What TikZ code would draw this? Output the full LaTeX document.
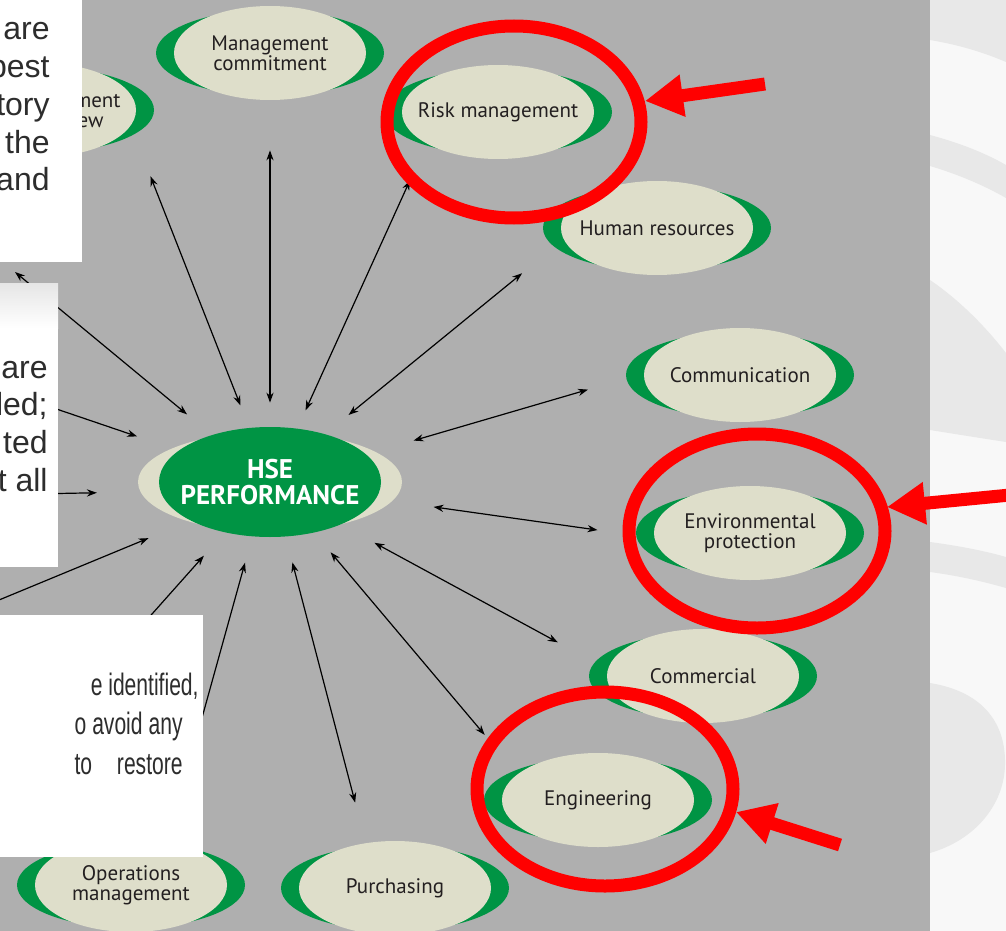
\documentclass[tikz,border=0pt]{standalone}
\usepackage{fontspec}
\setmainfont{PT Sans}
\newfontfamily\notefont{Liberation Sans}
\newfontfamily\narrowfont[FakeStretch=0.68]{Liberation Sans}
\usepackage{xcolor}
\usepackage{tikz}
\usetikzlibrary{shapes.geometric, arrows.meta}
\pgfdeclarelayer{ft}
\pgfdeclarelayer{bg}
\pgfsetlayers{bg,main,ft}

\definecolor{panel}{RGB}{175,175,175}
\definecolor{leaf}{RGB}{0,148,68}
\definecolor{cream}{RGB}{222,222,202}
\definecolor{paper}{RGB}{248,248,248}
\definecolor{swoosh}{RGB}{232,232,232}
\definecolor{ink}{RGB}{35,31,32}
\definecolor{notegray}{RGB}{45,45,45}

\tikzset{
  pill/.style={ellipse, fill=cream, minimum width=96pt, minimum height=47pt, inner sep=0pt},
  core/.style={ellipse, fill=leaf, minimum width=111pt, minimum height=55pt, inner sep=0pt},
  tag/.style={font=\fontsize{10.5}{10}\selectfont, text=ink, align=center, inner sep=0pt},
  link/.style={>={Stealth[length=5pt, width=3.6pt]}, <->, line width=0.6pt},
  note/.style={font=\notefont\fontsize{16}{19}\selectfont, text=notegray, inner sep=0pt, anchor=base east},
  narrownote/.style={note, font=\narrowfont\fontsize{15.5}{17}\selectfont},
  ring/.style={red, line width=6.5pt},
  pointer/.style={red, line width=6.5pt, -{Triangle[length=19pt, width=20pt]}}
}

\begin{document}
\begin{tikzpicture}[x=0.5pt,y=-0.5pt]
  \useasboundingbox (0,0) rectangle (1006,931);

  % grey panel and the pale strip on the right
  \begin{pgfonlayer}{bg}
    \fill[panel] (0,0) rectangle (930,931);
    \fill[paper] (930,0) rectangle (1006,931);
    \fill[swoosh] (930,0) -- (930,40) .. controls (960,45) and (985,53) .. (1006,62) -- (1006,0) -- cycle;
    \fill[swoosh] (930,135) .. controls (960,143) and (985,153) .. (1006,165)
      -- (1006,198) .. controls (985,186) and (960,175) .. (930,166) -- cycle;
    \fill[swoosh] (930,280) .. controls (955,297) and (982,322) .. (1006,353)
      -- (1006,442) .. controls (980,438) and (955,434) .. (930,430) -- cycle;
    \fill[swoosh] (930,542) .. controls (960,546) and (985,551) .. (1006,557)
      -- (1006,588) .. controls (985,582) and (960,576) .. (930,572) -- cycle;
    \fill[swoosh] (930,683) .. controls (985,692) and (1006,725) .. (1005,765)
      .. controls (1004,805) and (975,840) .. (930,853) -- cycle;
  \end{pgfonlayer}

  % the hub
  \node[core, label={[tag, text=white, font=\fontsize{13.5}{13}\selectfont\bfseries]center:HSE\\PERFORMANCE}] (hse) at (270,482) {};

  % the areas around it
  \node[pill, label={[tag, align=right, xshift=11pt]center:Management\\review\hspace*{8.5pt}}] (review) at (40,110) {};
  \node[pill, label={[tag]center:Management\\commitment}] (commit) at (270,53) {};
  \node[pill, label={[tag]center:Risk management}] (risk) at (498,112) {};
  \node[pill, label={[tag]center:Human resources}] (human) at (657,228) {};
  \node[pill, label={[tag]center:Communication}] (comms) at (740,375) {};
  \node[pill, label={[tag]center:Environmental\\protection}] (enviro) at (750,533) {};
  \node[pill, label={[tag]center:Commercial}] (commerce) at (703,676) {};
  \node[pill, label={[tag]center:Engineering}] (engineer) at (598,800) {};
  \node[pill, label={[tag]center:Purchasing}] (purchase) at (395,888) {};
  \node[pill, label={[tag]center:Operations\\management}] (ops) at (131,885) {};

  % green rims, and the cream rim of the hub
  \begin{pgfonlayer}{bg}
    \foreach \n in {review,commit,risk,human,comms,enviro,commerce,engineer,purchase,ops}
      \fill[leaf] (\n) ellipse [x radius=114, y radius=43];
    \fill[cream] (hse) ellipse [x radius=132, y radius=50];
  \end{pgfonlayer}

  % links between hub and areas
  \foreach \to/\a/\b/\s/\t in {review/111.7/-10/11.9/27, commit/90/-90/12/25,
      risk/63.6/-156.1/9.9/20, human/41.7/-173.8/15/26.7, comms/16.8/179.5/24.5/29,
      enviro/-9.1/-177.1/29/28.6, commerce/-31.6/176.3/19/28.3,
      engineer/-49.3/162/12.7/25.5, purchase/-74.3/123.4/13.2/20.8, ops/-108.6/50.6/13.5/20}
    \draw[link, shorten <=\s pt, shorten >=\t pt] (hse.\a) -- (\to.\b);

  % links running off under the text boxes
  \coordinate (hidSW) at (120,650);
  \coordinate (hidW) at (-30,612);
  \coordinate (hidL1) at (30,494);
  \coordinate (hidL2) at (30,400);
  \coordinate (hidNW) at (15,272);
  \draw[link, shorten <=15.5pt] (hse.-132.5) -- (hidSW);
  \draw[link, shorten <=22.7pt] (hse.-154.9) -- (hidW);
  \draw[link, shorten <=31.7pt] (hse.-175.7) -- (hidL1);
  \draw[link, shorten <=21.8pt] (hse.161.3) -- (hidL2);
  \draw[link, shorten <=16pt] (hse.141.1) -- (hidNW);

  \begin{pgfonlayer}{ft}
    % text boxes
    \fill[white] (0,0) rectangle (82,262);
    \fill[white] (0,283) rectangle (58,567);
    \shade[top color=black!10, bottom color=white] (0,283) rectangle (58,328);
    \fill[white] (0,615) rectangle (203,857);
    \foreach \w [count=\i] in {are,best,tory,the,and}
      \node[note] (upper\i) at (50,40+37.7*\i-37.7) {\w};
    \foreach \w [count=\i] in {are,led;,ted,t all}
      \node[note] (middle\i) at (48,378+37.7*\i-37.7) {\w};
    \node[narrownote] (lower1) at (199,695) {e identified,};
    \node[narrownote] (lower2) at (183,734) {\makebox[54pt][s]{o avoid any}};
    \node[narrownote] (lower3) at (183,774) {\makebox[54pt][s]{to restore}};

    % red highlights
    \draw[ring] (514,122) ellipse [x radius=127, y radius=96];
    \draw[ring] (757,531) ellipse [x radius=128, y radius=97];
    \draw[ring] (605,789) ellipse [x radius=128, y radius=97];
    \draw[pointer] (765,84) -- (645,101);
    \draw[pointer] (1010,495) -- (887,507);
    \draw[pointer] (840,845) -- (736,812);
  \end{pgfonlayer}
\end{tikzpicture}
\end{document}
